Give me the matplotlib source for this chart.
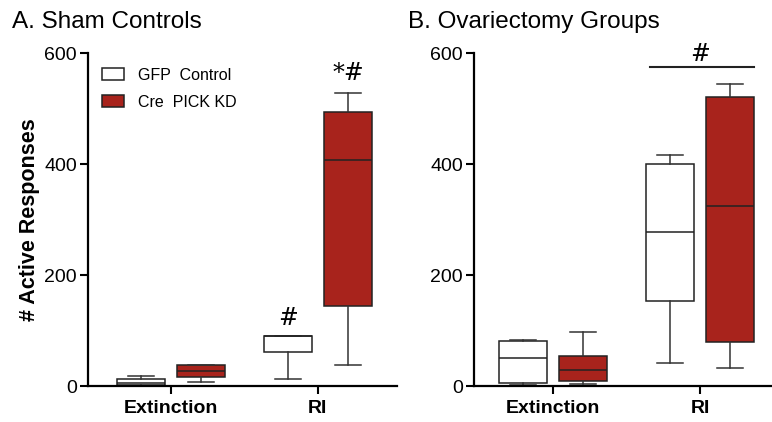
import matplotlib
matplotlib.use("Agg")
import matplotlib.pyplot as plt
from matplotlib.patches import Patch

plt.rcParams['font.family'] = ['Liberation Sans', 'DejaVu Sans']

categories = ['Extinction', 'RI']
groups = ['GFP  Control', 'Cre  PICK KD']
colors = ['white', '#A8231C']

# box stats: [whislo, q1, med, q3, whishi] per category
sham_gfp = [[0, 2, 5, 12, 19], [13, 61, 90, 90, 90]]
sham_cre = [[8, 17, 27, 38, 38], [38, 145, 408, 494, 529]]
ovx_gfp = [[2, 6, 50, 82, 84], [41, 154, 278, 401, 416]]
ovx_cre = [[3, 9, 29, 54, 98], [33, 79, 324, 521, 545]]

titles = ['A. Sham Controls', 'B. Ovariectomy Groups']
yticks = [0, 200, 400, 600]


def to_stats(rows):
    return [dict(whislo=r[0], q1=r[1], med=r[2], q3=r[3], whishi=r[4]) for r in rows]


def draw_panel(ax, gfp, cre, xlim):
    offs = [-0.205, 0.205]
    for data, off, col in zip([gfp, cre], offs, colors):
        pos = [i + off for i in range(len(categories))]
        ax.bxp(to_stats(data), positions=pos, widths=0.33, patch_artist=True,
               showfliers=False,
               boxprops=dict(facecolor=col, edgecolor='#222222', linewidth=1.1),
               medianprops=dict(color='#222222', linewidth=1.1),
               whiskerprops=dict(color='#333333', linewidth=1.1),
               capprops=dict(color='#333333', linewidth=1.1),
               capwidths=0.18)
    ax.set_xlim(*xlim)
    ax.set_ylim(0, 600)
    ax.set_yticks(yticks)
    ax.set_xticks(range(len(categories)))
    ax.set_xticklabels(categories, fontsize=14, fontweight='bold')
    ax.tick_params(axis='y', labelsize=14, length=6, width=1.5, pad=2)
    ax.tick_params(axis='x', length=6, width=1.5, pad=4)
    for s in ['top', 'right']:
        ax.spines[s].set_visible(False)
    for s in ['left', 'bottom']:
        ax.spines[s].set_linewidth(1.6)


fig = plt.figure(figsize=(7.72, 4.22), dpi=100)
ax1 = fig.add_axes([0.114, 0.085, 0.400, 0.789])
ax2 = fig.add_axes([0.614, 0.085, 0.386, 0.789])

draw_panel(ax1, sham_gfp, sham_cre, (-0.565, 1.537))
draw_panel(ax2, ovx_gfp, ovx_cre, (-0.537, 1.49))

ax1.set_ylabel('# Active Responses', fontsize=15.5, fontweight='bold', labelpad=3)

# significance marks
ax1.text(1 - 0.205, 122, '#', ha='center', va='center', fontsize=17, family='DejaVu Serif')
ax1.text(1 + 0.205, 563, '*#', ha='center', va='center', fontsize=17, family='DejaVu Serif')
ax2.plot([1 - 0.34, 1 + 0.37], [575, 575], color='#222222', linewidth=1.5, clip_on=False)
ax2.text(1.0, 598, '#', ha='center', va='center', fontsize=17, family='DejaVu Serif', clip_on=False)

fig.text(0.015, 0.948, titles[0], fontsize=17.5, va='center')
fig.text(0.528, 0.948, titles[1], fontsize=17.5, va='center')

handles = [Patch(facecolor=c, edgecolor='#222222', linewidth=1.1) for c in colors]
ax1.legend(handles, groups, loc='upper left', bbox_to_anchor=(0.0, 1.0), frameon=False,
           fontsize=11.5, handlelength=1.35, handleheight=0.85, handletextpad=0.9, labelspacing=0.75)

fig.savefig('out.png', dpi=100)
